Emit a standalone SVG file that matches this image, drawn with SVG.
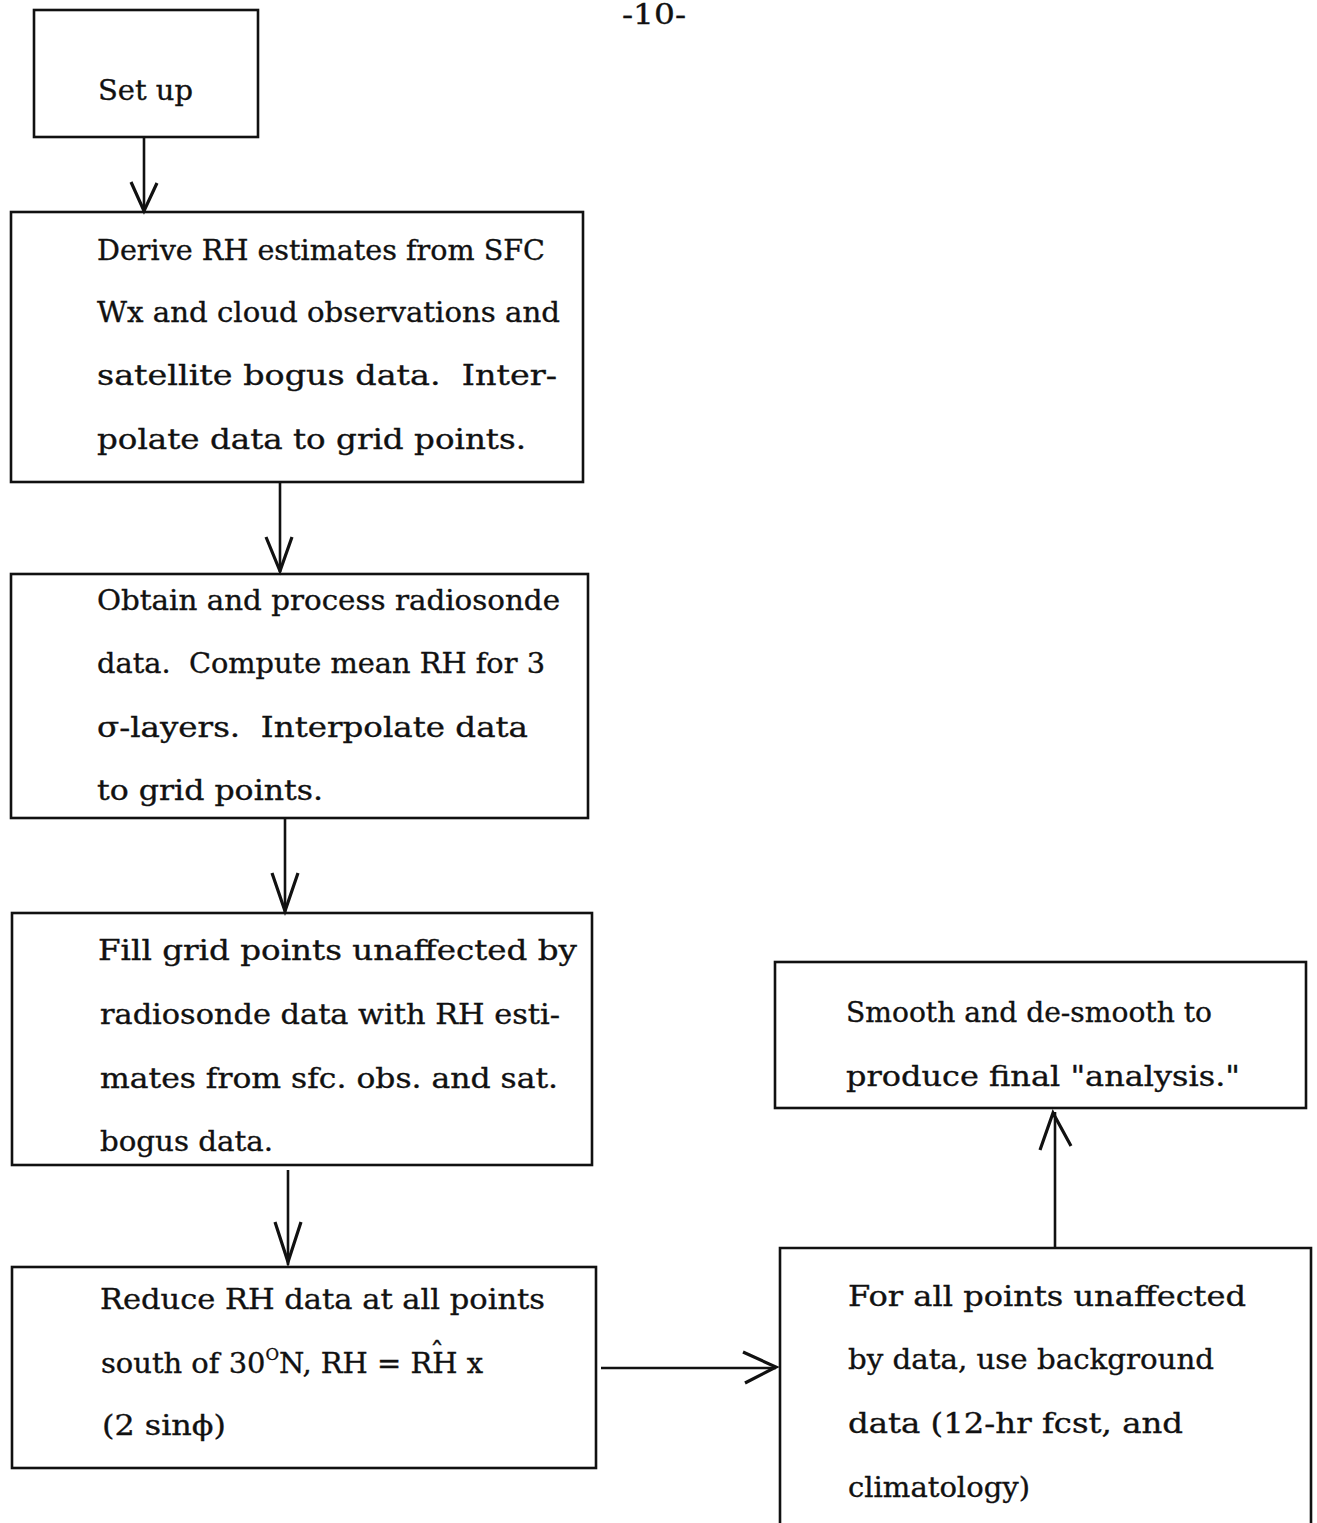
<svg xmlns="http://www.w3.org/2000/svg" width="1317" height="1523" viewBox="0 0 1317 1523">
<style>
.bg{fill:#ffffff}
.box{fill:none;stroke:#111;stroke-width:2.6}
.t{font-family:"DejaVu Serif","Liberation Serif",serif;font-size:28px;fill:#111;stroke:#111;stroke-width:0.35;white-space:pre}
.ln{fill:none;stroke:#111;stroke-width:2.6}
.hd{fill:none;stroke:#111;stroke-width:3.2;stroke-linejoin:miter}
</style>
<rect class="bg" x="0" y="0" width="1317" height="1523"/>
<text class="t" x="622" y="24" font-size="22" textLength="64" lengthAdjust="spacingAndGlyphs">-10-</text>

<g id="node-setup">
<rect class="box" x="34" y="10" width="224" height="127"/>
<text class="t" x="98" y="100" textLength="95" lengthAdjust="spacingAndGlyphs">Set up</text>
</g>

<g id="node-derive">
<rect class="box" x="11" y="212" width="572" height="270"/>
<text class="t" x="97" y="260" textLength="448" lengthAdjust="spacingAndGlyphs">Derive RH estimates from SFC</text>
<text class="t" x="97" y="322" textLength="463" lengthAdjust="spacingAndGlyphs">Wx and cloud observations and</text>
<text class="t" x="97" y="385" textLength="460" lengthAdjust="spacingAndGlyphs">satellite bogus data.  Inter-</text>
<text class="t" x="97" y="449" textLength="429" lengthAdjust="spacingAndGlyphs">polate data to grid points.</text>
</g>

<g id="node-radiosonde">
<rect class="box" x="11" y="574" width="577" height="244"/>
<text class="t" x="97" y="610" textLength="463" lengthAdjust="spacingAndGlyphs">Obtain and process radiosonde</text>
<text class="t" x="97" y="673" textLength="448" lengthAdjust="spacingAndGlyphs">data.  Compute mean RH for 3</text>
<text class="t" x="97" y="737" textLength="431" lengthAdjust="spacingAndGlyphs">σ-layers.  Interpolate data</text>
<text class="t" x="97" y="800" textLength="226" lengthAdjust="spacingAndGlyphs">to grid points.</text>
</g>

<g id="node-fill">
<rect class="box" x="12" y="913" width="580" height="252"/>
<text class="t" x="98" y="960" textLength="479" lengthAdjust="spacingAndGlyphs">Fill grid points unaffected by</text>
<text class="t" x="100" y="1024" textLength="460" lengthAdjust="spacingAndGlyphs">radiosonde data with RH esti-</text>
<text class="t" x="100" y="1088" textLength="458" lengthAdjust="spacingAndGlyphs">mates from sfc. obs. and sat.</text>
<text class="t" x="100" y="1151" textLength="173" lengthAdjust="spacingAndGlyphs">bogus data.</text>
</g>

<g id="node-reduce">
<rect class="box" x="12" y="1267" width="584" height="201"/>
<text class="t" x="100" y="1309" textLength="445" lengthAdjust="spacingAndGlyphs">Reduce RH data at all points</text>
<text class="t" x="101" y="1373" textLength="382" lengthAdjust="spacingAndGlyphs">south of 30<tspan font-size="16" dy="-13">O</tspan><tspan dy="13">N, RH = RH x</tspan></text>
<text class="t" x="437" y="1362" font-size="24" text-anchor="middle">ˆ</text>
<text class="t" x="102" y="1435" textLength="124" lengthAdjust="spacingAndGlyphs">(2 sinϕ)</text>
</g>

<g id="node-background">
<path class="box" d="M780,1523 V1248 H1311 V1523"/>
<text class="t" x="848" y="1306" textLength="398" lengthAdjust="spacingAndGlyphs">For all points unaffected</text>
<text class="t" x="848" y="1369" textLength="366" lengthAdjust="spacingAndGlyphs">by data, use background</text>
<text class="t" x="848" y="1433" textLength="335" lengthAdjust="spacingAndGlyphs">data (12-hr fcst, and</text>
<text class="t" x="848" y="1497" textLength="182" lengthAdjust="spacingAndGlyphs">climatology)</text>
</g>

<g id="node-smooth">
<rect class="box" x="775" y="962" width="531" height="146"/>
<text class="t" x="846" y="1022" textLength="366" lengthAdjust="spacingAndGlyphs">Smooth and de-smooth to</text>
<text class="t" x="846" y="1086" textLength="394" lengthAdjust="spacingAndGlyphs">produce final "analysis."</text>
</g>

<g id="connectors">
<line class="ln" x1="144" y1="137" x2="144" y2="211"/>
<polyline class="hd" points="131,182 144,211 157,183"/>
<line class="ln" x1="280" y1="482" x2="280" y2="572"/>
<polyline class="hd" points="266,537 280,571 292,537"/>
<line class="ln" x1="285" y1="818" x2="285" y2="912"/>
<polyline class="hd" points="272,873 285,911 298,873"/>
<line class="ln" x1="288" y1="1170" x2="288" y2="1265"/>
<polyline class="hd" points="275,1222 288,1262 301,1222"/>
<line class="ln" x1="601" y1="1368" x2="776" y2="1368"/>
<polyline class="hd" points="743,1352 776,1367 745,1383"/>
<line class="ln" x1="1055" y1="1247" x2="1055" y2="1112"/>
<polyline class="hd" points="1040,1150 1053,1113 1071,1146"/>
</g>
</svg>
